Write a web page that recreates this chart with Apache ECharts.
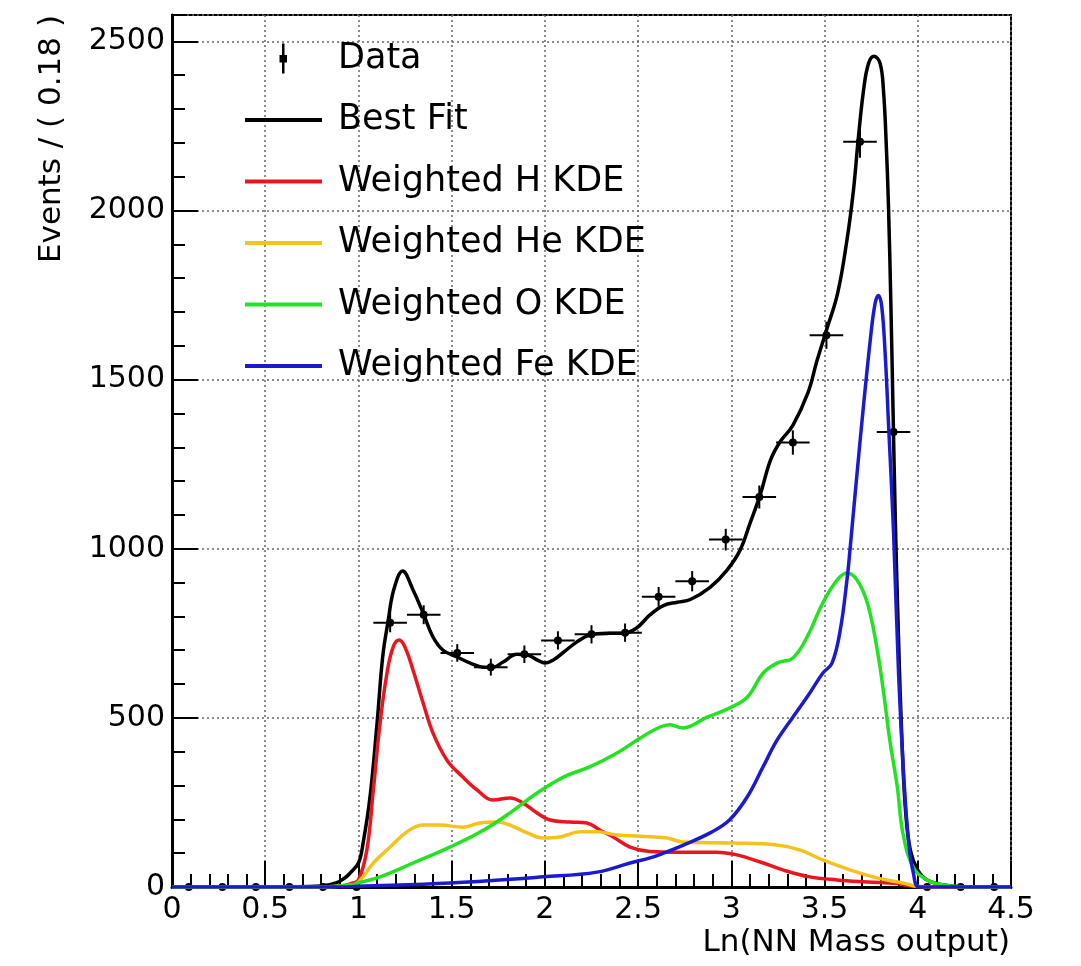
<!DOCTYPE html>
<html>
<head>
<meta charset="utf-8">
<script src="https://cdn.jsdelivr.net/npm/echarts@6/dist/echarts.min.js"></script>
<style>
html, body { margin: 0; padding: 0; background: #fff; }
#chart { width: 1081px; height: 966px; }
</style>
</head>
<body>
<div id="chart"></div>
<script>
// histogram, bin width 0.18
var binCenters = [0.09, 0.27, 0.45, 0.63, 0.81, 0.99, 1.17, 1.35, 1.53, 1.71, 1.89, 2.07, 2.25,
                  2.43, 2.61, 2.79, 2.97, 3.15, 3.33, 3.51, 3.69, 3.87, 4.05, 4.23, 4.41];
var binCounts  = [0, 0, 0, 0, 0, 0, 781, 805, 692, 650, 688, 729, 747,
                  752, 858, 904, 1027, 1153, 1314, 1631, 2203, 1345, 0, 0, 0];
var binErrors  = [0, 0, 0, 0, 0, 0, 28, 28, 26, 25, 26, 27, 27,
                  27, 29, 30, 32, 34, 36, 40, 47, 37, 0, 0, 0];

// best fit
var fitX = [0, 0.5, 0.8, 0.88, 0.93, 0.955, 1.0, 1.025, 1.062, 1.10, 1.13, 1.16, 1.19, 1.237, 1.293,
            1.347, 1.40, 1.454, 1.53, 1.60, 1.67, 1.72, 1.776, 1.85, 1.905, 1.96, 2.0, 2.045, 2.10,
            2.17, 2.24, 2.33, 2.42, 2.49, 2.565, 2.636, 2.71, 2.78, 2.886, 2.977, 3.047, 3.10, 3.155,
            3.21, 3.26, 3.33, 3.41, 3.46, 3.51, 3.57, 3.62, 3.655, 3.68, 3.709, 3.736, 3.766, 3.798,
            3.816, 3.830, 3.843, 3.856, 3.867, 3.879, 3.897, 3.915, 3.933, 3.96, 4.0, 4.05, 4.14, 4.3, 4.5];
var fitY = [0, 0, 3, 12, 28, 41, 71, 130, 266, 485, 680, 789, 880, 934, 878,
            810, 739, 700, 680, 662, 650, 650, 665, 688, 686, 671, 662, 671, 694,
            724, 745, 750, 750, 765, 805, 832, 842, 850, 886, 937, 996, 1075, 1160,
            1262, 1315, 1365, 1460, 1557, 1646, 1755, 1912, 2060, 2207, 2355, 2435, 2456, 2435,
            2355, 2207, 2011, 1715, 1419, 1100, 729, 434, 237, 109, 50, 21, 6, 0, 0];

// weighted H KDE
var hX = [0, 0.8, 0.9, 0.96, 1.0, 1.045, 1.08, 1.116, 1.153, 1.186, 1.218, 1.25, 1.293, 1.347, 1.40,
          1.475, 1.56, 1.636, 1.72, 1.813, 1.883, 1.958, 2.028, 2.135, 2.226, 2.296, 2.366, 2.457,
          2.564, 2.709, 2.92, 3.03, 3.155, 3.28, 3.42, 3.567, 3.73, 3.89, 3.97, 4.05, 4.5];
var hY = [0, 0, 3, 10, 21, 109, 287, 485, 632, 709, 730, 709, 641, 544, 455,
          375, 325, 287, 257, 263, 248, 219, 198, 192, 189, 168, 148, 118,
          105, 103, 103, 95, 74, 50, 30, 21, 15, 10, 2, 0, 0];

// weighted He KDE
var heX = [0, 0.8, 0.95, 1.0, 1.08, 1.17, 1.26, 1.347, 1.438, 1.56, 1.652, 1.743, 1.813, 1.905, 1.99,
           2.08, 2.19, 2.28, 2.387, 2.51, 2.655, 2.74, 3.01, 3.245, 3.37, 3.49, 3.64, 3.78, 3.92, 4.0, 4.1, 4.5];
var heY = [0, 0, 5, 15, 71, 118, 163, 183, 183, 177, 189, 192, 183, 160, 145,
           148, 163, 163, 154, 150, 145, 133, 130, 124, 109, 80, 50, 27, 12, 2, 0, 0];

// weighted O KDE
var oX = [0, 0.8, 0.95, 1.0, 1.116, 1.293, 1.49, 1.67, 1.813, 1.958, 2.10, 2.24, 2.387, 2.51, 2.618,
          2.67, 2.74, 2.87, 2.99, 3.085, 3.17, 3.245, 3.33, 3.406, 3.49, 3.567, 3.62, 3.675, 3.73,
          3.78, 3.815, 3.85, 3.89, 3.92, 3.975, 4.05, 4.14, 4.3, 4.5];
var oY = [0, 0, 5, 12, 30, 71, 118, 168, 219, 278, 325, 355, 396, 440, 473,
          480, 470, 502, 529, 561, 632, 662, 677, 739, 839, 907, 928, 907, 839,
          709, 582, 434, 296, 160, 59, 21, 6, 0, 0];

// weighted Fe KDE
var feX = [0, 0.9, 1.0, 1.49, 1.99, 2.28, 2.457, 2.564, 2.636, 2.743, 2.886, 2.99, 3.085, 3.17, 3.245,
           3.33, 3.42, 3.49, 3.54, 3.584, 3.62, 3.637, 3.691, 3.745, 3.771, 3.789, 3.807, 3.826,
           3.843, 3.870, 3.897, 3.924, 3.950, 3.977, 4.01, 4.5];
var feY = [0, 0, 2, 12, 30, 44, 71, 86, 100, 124, 160, 198, 266, 355, 434,
           502, 573, 632, 662, 759, 907, 1000, 1321, 1616, 1725, 1749, 1715, 1567,
           1370, 1050, 631, 335, 138, 40, 0, 0];

var xTicks = [0, 4.5, 0.5];   // min, max, step
var yTicks = [0, 2578, 500];

function zip(xs, ys) {
  return xs.map(function (x, i) { return [x, ys[i]]; });
}

var font = 'DejaVu Sans';
var lineIcon = 'path://M0,0 M77,30 M0,13 h77 v4 h-77 z';
var dataIcon = 'path://M0,0 M77,30 M37,0 h2.5 v30 h-2.5 z M34.5,11.5 h7.5 v7.5 h-7.5 z';
var chart = echarts.init(document.getElementById('chart'));

function renderData(params, api) {
  var x = api.value(0), y = api.value(1), e = api.value(2);
  var c = api.coord([x, y]);
  var l = api.coord([x - 0.09, y]);
  var r = api.coord([x + 0.09, y]);
  var t = api.coord([x, y + e]);
  var b = api.coord([x, y - e]);
  var st = { stroke: '#000', lineWidth: 2 };
  return {
    type: 'group',
    children: [
      { type: 'line', shape: { x1: l[0], y1: c[1], x2: r[0], y2: c[1] }, style: st },
      { type: 'line', shape: { x1: c[0], y1: t[1], x2: c[0], y2: b[1] }, style: st },
      { type: 'circle', shape: { cx: c[0], cy: c[1], r: 4 }, style: { fill: '#000' } }
    ]
  };
}

function curve(name, xs, ys, color) {
  return {
    name: name,
    type: 'line',
    data: zip(xs, ys),
    symbol: 'none',
    showSymbol: false,
    smooth: 0.4,
    color: color,
    itemStyle: { color: color },
    lineStyle: { color: color, width: 3.5 },
    z: 3
  };
}

var option = {
  backgroundColor: '#fff',
  animation: false,
  grid: { left: 172, right: 70, top: 15, bottom: 79, show: true, borderColor: '#000', borderWidth: 2 },
  legend: {
    orient: 'vertical',
    left: 240,
    top: 36,
    itemWidth: 77,
    itemHeight: 30,
    itemGap: 26.5,
    textStyle: { fontFamily: font, fontSize: 35, color: '#000', lineHeight: 30, padding: [0, 0, 0, 11] },
    data: [
      { name: 'Data', icon: dataIcon },
      { name: 'Best Fit', icon: lineIcon },
      { name: 'Weighted H KDE', icon: lineIcon },
      { name: 'Weighted He KDE', icon: lineIcon },
      { name: 'Weighted O KDE', icon: lineIcon },
      { name: 'Weighted Fe KDE', icon: lineIcon }
    ]
  },
  xAxis: {
    type: 'value',
    min: xTicks[0], max: xTicks[1], interval: xTicks[2],
    axisLine: { show: true, lineStyle: { color: '#000', width: 3 } },
    axisTick: { show: true, inside: true, length: 26, lineStyle: { color: '#000', width: 2 } },
    minorTick: { show: true, splitNumber: 5, length: 13, lineStyle: { color: '#000', width: 2 } },
    axisLabel: { fontFamily: font, fontSize: 30, color: '#000', margin: 8 },
    splitLine: { show: true, lineStyle: { color: '#666', type: [2, 3], width: 1.5 } }
  },
  yAxis: [{
    type: 'value',
    min: yTicks[0], max: yTicks[1], interval: yTicks[2],
    axisLine: { show: true, lineStyle: { color: '#000', width: 3 } },
    axisTick: { show: true, inside: true, length: 26, lineStyle: { color: '#000', width: 2 } },
    axisLabel: {
      fontFamily: font, fontSize: 30, color: '#000', margin: 7, showMaxLabel: false,
      formatter: function (v) { return String(v); }
    },
    splitLine: { show: true, lineStyle: { color: '#666', type: [2, 3], width: 1.5 } }
  }, {
    // minor ticks every 100
    type: 'value',
    position: 'left',
    min: yTicks[0], max: yTicks[1], interval: 100,
    axisLine: { show: false },
    axisTick: { show: true, inside: true, length: 13, lineStyle: { color: '#000', width: 2 } },
    axisLabel: { show: false },
    splitLine: { show: false }
  }],
  graphic: [
    {
      type: 'text', x: 52, y: 15, rotation: Math.PI / 2,
      style: { text: 'Events / ( 0.18 )', font: '31px "DejaVu Sans"', fill: '#000',
               textAlign: 'right', textVerticalAlign: 'middle' }
    },
    {
      type: 'text', x: 1010, y: 943,
      style: { text: 'Ln(NN Mass output)', font: '31px "DejaVu Sans"', fill: '#000',
               textAlign: 'right', textVerticalAlign: 'middle' }
    }
  ],
  series: [
    {
      name: 'Data',
      type: 'custom',
      renderItem: renderData,
      clip: false,
      color: '#000',
      itemStyle: { color: '#000' },
      encode: { x: 0, y: 1 },
      data: binCenters.map(function (x, i) { return [x, binCounts[i], binErrors[i]]; }),
      z: 2
    },
    curve('Best Fit', fitX, fitY, '#000000'),
    curve('Weighted H KDE', hX, hY, '#e8161f'),
    curve('Weighted He KDE', heX, heY, '#f5c21c'),
    curve('Weighted O KDE', oX, oY, '#22e322'),
    curve('Weighted Fe KDE', feX, feY, '#1a1ad0')
  ]
};

chart.setOption(option);
window.addEventListener('resize', function () { chart.resize(); });
</script>
</body>
</html>
